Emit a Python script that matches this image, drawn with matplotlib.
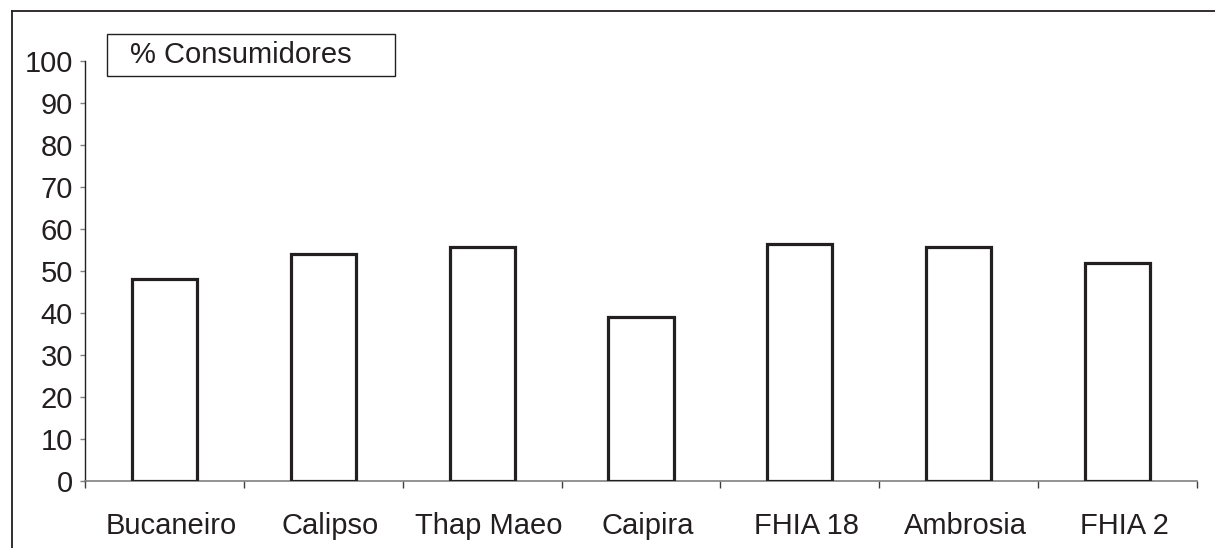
import matplotlib
matplotlib.use('Agg')
import matplotlib.pyplot as plt
from matplotlib.patches import Rectangle
from matplotlib.lines import Line2D
from matplotlib.transforms import ScaledTranslation
import numpy as np

# Data
variedades = ['Bucaneiro', 'Calipso', 'Thap Maeo', 'Caipira', 'FHIA 18', 'Ambrosia', 'FHIA 2']
consumidores = [48, 54, 55.6, 39, 56.4, 55.6, 52]
y_ticks = list(range(0, 101, 10))

plt.rcParams['font.family'] = ['Liberation Sans', 'DejaVu Sans']

W, H = 1215, 548
fig = plt.figure(figsize=(W / 100, H / 100), dpi=100)
ax = fig.add_axes([85 / W, (H - 481) / H, (1197 - 85) / W, (481 - 61) / H])

x = np.arange(len(variedades))
ax.bar(x, consumidores, width=0.41, color='white', edgecolor='#231f20',
       linewidth=2.3, zorder=3)

ax.set_xlim(-0.5, len(variedades) - 0.5)
ax.set_ylim(0, 100)
ax.set_yticks(y_ticks)
ax.set_xticks(x)
ax.set_xticklabels(variedades)
ax.set_xticks(np.arange(len(variedades) + 1) - 0.5, minor=True)

for s in ['top', 'right']:
    ax.spines[s].set_visible(False)
ax.spines['left'].set_color('#231f20')
ax.spines['left'].set_linewidth(1.0)
ax.spines['bottom'].set_color('#808080')
ax.spines['bottom'].set_linewidth(1.2)

ax.tick_params(axis='y', length=3.6, width=1.0, color='#808080', pad=5,
               labelsize=21, labelcolor='#231f20')
ax.tick_params(axis='x', which='major', length=0, pad=22.5,
               labelsize=21, labelcolor='#231f20')
ax.tick_params(axis='x', which='minor', length=5, width=1.0, color='#404040')

# category labels sit a little right of the bar centres in the original
shift = ScaledTranslation(7 / 100, 0, fig.dpi_scale_trans)
for lab in ax.get_xticklabels():
    lab.set_transform(lab.get_transform() + shift)

# legend-like box
fig.patches.append(Rectangle((107 / W, (H - 76) / H), (395 - 107) / W, (76 - 34) / H,
                             transform=fig.transFigure, facecolor='white',
                             edgecolor='#231f20', linewidth=1.0))
fig.text(130 / W, (H - 55) / H, '% Consumidores', fontsize=21, color='#231f20',
         va='center', ha='left')

# outer frame (top and left only)
fig.lines.append(Line2D([12 / W, 12 / W], [0, (H - 11) / H], transform=fig.transFigure,
                        color='#231f20', linewidth=1.3))
fig.lines.append(Line2D([12 / W, 1], [(H - 11) / H, (H - 11) / H], transform=fig.transFigure,
                        color='#231f20', linewidth=1.3))

fig.savefig('out.png', dpi=100)
